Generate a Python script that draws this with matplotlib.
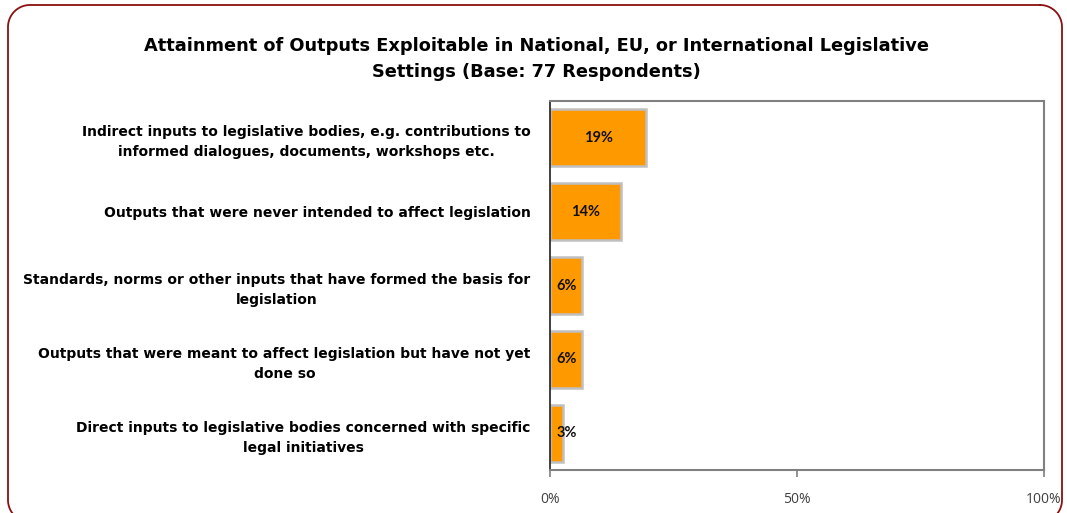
import matplotlib
matplotlib.use("Agg")
import matplotlib.pyplot as plt
import numpy as np

categories = [
    "Indirect inputs to legislative bodies, e.g. contributions to\ninformed dialogues, documents, workshops etc.",
    "Outputs that were never intended to affect legislation",
    "Standards, norms or other inputs that have formed the basis for\nlegislation",
    "Outputs that were meant to affect legislation but have not yet\ndone so",
    "Direct inputs to legislative bodies concerned with specific\nlegal initiatives",
]
values = [19.5, 14.3, 6.5, 6.5, 2.6]
value_labels = ["19%", "14%", "6%", "6%", "3%"]
xticks = [0, 50, 100]
xtick_labels = ["0%", "50%", "100%"]
title = "Attainment of Outputs Exploitable in National, EU, or International Legislative\nSettings (Base: 77 Respondents)"

W, H = 1067, 513
fig = plt.figure(figsize=(W / 100, H / 100), dpi=100)
fig.patch.set_facecolor("white")

# rounded border drawn in pixel coordinates
bg = fig.add_axes([0, 0, 1, 1])
bg.set_xlim(0, W)
bg.set_ylim(H, 0)
bg.axis("off")
x0, x1, y0, y1, r = 8, 1062, 5, 522, 22
pts = []
for cx, cy, a0 in [(x1 - r, y0 + r, -90), (x1 - r, y1 - r, 0),
                   (x0 + r, y1 - r, 90), (x0 + r, y0 + r, 180)]:
    t = np.radians(np.linspace(a0, a0 + 90, 30))
    pts.append(np.column_stack([cx + r * np.cos(t), cy + r * np.sin(t)]))
pts.append(pts[0][:1])
pts = np.vstack(pts)
bg.plot(pts[:, 0], pts[:, 1], color="#8B1010", linewidth=1.3, clip_on=False,
        solid_joinstyle="round")

ax = fig.add_axes([550 / W, 1 - 470 / H, (1044 - 550) / W, (470 - 101) / H])
n = len(categories)
ypos = list(range(n))
ax.barh(ypos, values, height=0.77, color="#FF9900", edgecolor="#C0C0C0", linewidth=1.8)
ax.set_ylim(n - 0.5, -0.5)
ax.set_xlim(0, 100)
ax.set_yticks(ypos)
ax.set_yticklabels(categories, fontsize=10, fontweight="bold",
                   family=["DejaVu Sans"], multialignment="center", linespacing=1.55)
ax.tick_params(axis="y", length=0, pad=14)
ax.set_xticks(xticks)
ax.set_xticklabels(xtick_labels, fontsize=10, color="#404040", family=["Open Sans", "DejaVu Sans"])
ax.tick_params(axis="x", length=5, color="#808080", width=1.2, pad=11)

for s in ["top", "right", "bottom"]:
    ax.spines[s].set_color("#808080")
    ax.spines[s].set_linewidth(1.5)
ax.spines["left"].set_color("#202020")
ax.spines["left"].set_linewidth(1.2)

for y, v, lab in zip(ypos, values, value_labels):
    ax.text(max(v / 2, 3.4), y, lab, ha="center", va="center", fontsize=10.5,
            fontweight="bold", family=["Lato", "DejaVu Sans"], color="#111111")

fig.text(536 / W, 1 - 59 / H, title, ha="center", va="center", fontsize=12.8,
         fontweight="bold", family=["DejaVu Sans"],
         linespacing=1.6)

fig.savefig("out.png", dpi=100)
